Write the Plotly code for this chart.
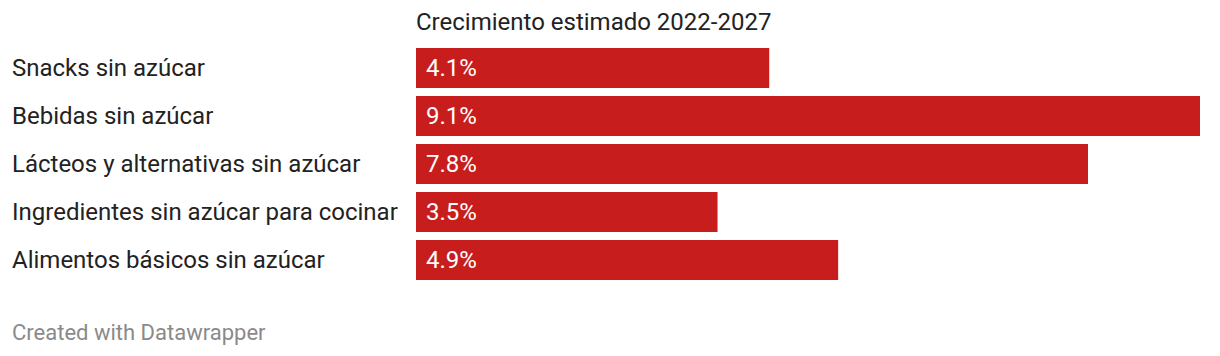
import plotly.graph_objects as go

categories = [
    "Snacks sin azúcar",
    "Bebidas sin azúcar",
    "Lácteos y alternativas sin azúcar",
    "Ingredientes sin azúcar para cocinar",
    "Alimentos básicos sin azúcar",
]
values = [4.1, 9.1, 7.8, 3.5, 4.9]
value_labels = ["4.1%", "9.1%", "7.8%", "3.5%", "4.9%"]
title_text = "Crecimiento estimado 2022-2027"
footer_text = "Created with Datawrapper"

# page body has an 8px default margin; compensate
OFF = 8
W, H = 1220 - OFF, 356 - OFF
ML, MR, MT = 416 - OFF, 20, 44 - OFF
PH = 240
MB = H - MT - PH
plot_w = W - ML - MR
FONT = "Roboto"
LABEL_X = (12 - OFF - ML) / plot_w

fig = go.Figure(
    go.Bar(
        x=values,
        y=categories,
        orientation="h",
        marker=dict(color="#c71e1d", line=dict(width=0)),
        hoverinfo="skip",
    )
)

annotations = []
for c, v, t in zip(categories, values, value_labels):
    annotations.append(dict(
        x=0, y=c, xref="x", yref="y", text=t, showarrow=False,
        xanchor="left", yanchor="middle", xshift=8,
        font=dict(family=FONT, size=24, color="#ffffff"),
    ))
    annotations.append(dict(
        x=LABEL_X, y=c, xref="paper", yref="y", text=c,
        showarrow=False, xanchor="left", yanchor="middle", xshift=-2,
        font=dict(family=FONT, size=24, color="#222222"),
    ))

annotations.append(dict(
    x=0, y=1, xref="paper", yref="paper", text=title_text, showarrow=False,
    xanchor="left", yanchor="middle", yshift=22, xshift=-2,
    font=dict(family=FONT, size=24, color="#222222"),
))
annotations.append(dict(
    x=LABEL_X, y=0, xref="paper", yref="paper", text=footer_text,
    showarrow=False, xanchor="left", yanchor="middle", yshift=-48, xshift=-2,
    font=dict(family=FONT, size=22, color="#8a8a8a"),
))

fig.update_layout(
    width=W, height=H,
    margin=dict(l=ML, r=MR, t=MT, b=MB, pad=0),
    paper_bgcolor="#ffffff", plot_bgcolor="#ffffff",
    bargap=8 / 48,
    showlegend=False,
    xaxis=dict(range=[0, max(values)], visible=False, fixedrange=True),
    yaxis=dict(autorange="reversed", visible=False, fixedrange=True,
               categoryorder="array", categoryarray=categories),
    annotations=annotations,
)

fig.write_html("out.html", config={"displayModeBar": False})
